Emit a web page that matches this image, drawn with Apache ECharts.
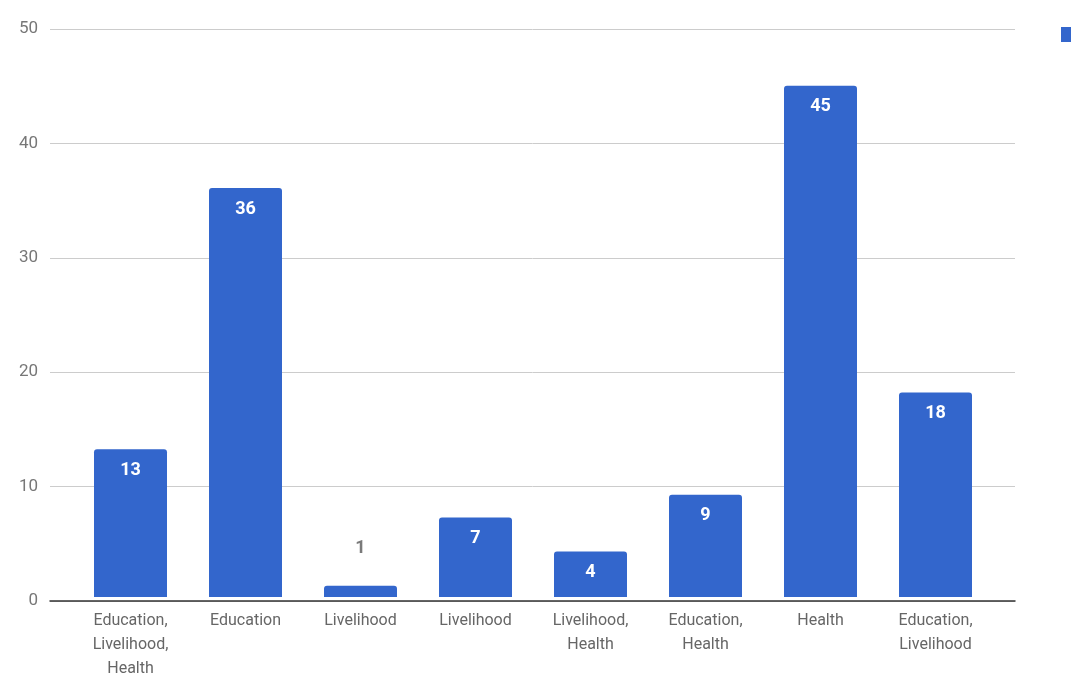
<!DOCTYPE html>
<html>
<head>
<meta charset="utf-8">
<script src="https://cdn.jsdelivr.net/npm/echarts@6/dist/echarts.min.js"></script>
<style>html,body{margin:0;padding:0;background:#fff}#c{width:1071px;height:681px}</style>
</head>
<body>
<div id="c"></div>
<script>
const categories = ["Education,\nLivelihood,\nHealth", "Education", "Livelihood", "Livelihood", "Livelihood,\nHealth", "Education,\nHealth", "Health", "Education,\nLivelihood"];
const values = [13, 36, 1, 7, 4, 9, 45, 18];
const yTicks = [0, 10, 20, 30, 40, 50];
const seriesName = "Count";

const chart = echarts.init(document.getElementById('c'));
const barData = values.map(v => {
  if (v < 3) {
    return { value: v, label: { position: 'top', distance: 28, color: '#7a7a7a', fontWeight: 'bold' } };
  }
  return v;
});
chart.setOption({
  animation: false,
  textStyle: { fontFamily: 'Roboto' },
  legend: {
    left: 1056, top: 22, itemWidth: 15, itemHeight: 15, icon: 'rect',
    textStyle: { color: '#444', fontSize: 15 },
    data: [seriesName]
  },
  grid: [
    { left: 50, right: 56, top: 29, bottom: 80 },
    { left: 73, right: 78, top: 29, bottom: 80 }
  ],
  xAxis: [
    { type: 'value', gridIndex: 0, min: 0, max: 1, axisLine: { show: true, onZero: false, lineStyle: { color: '#333', width: 1.5 } }, axisTick: { show: false }, axisLabel: { show: false }, splitLine: { show: false } },
    { type: 'category', gridIndex: 1, data: categories, axisLine: { show: false }, axisTick: { show: false },
      axisLabel: { color: '#666', fontSize: 16, lineHeight: 24, margin: 12, interval: 0 } }
  ],
  yAxis: [
    { type: 'value', gridIndex: 0, min: yTicks[0], max: yTicks[yTicks.length - 1], interval: 10,
      axisLine: { show: false }, axisTick: { show: false },
      axisLabel: { color: '#777', fontSize: 17, margin: 12 },
      splitLine: { lineStyle: { color: '#cccccc', width: 1 } } },
    { type: 'value', gridIndex: 1, min: yTicks[0], max: yTicks[yTicks.length - 1], interval: 10, show: false }
  ],
  series: [{
    name: seriesName,
    type: 'bar',
    xAxisIndex: 1, yAxisIndex: 1,
    data: barData,
    barWidth: 73,
    itemStyle: { color: '#3366cc', borderRadius: [3, 3, 0, 0] },
    label: { show: true, position: 'insideTop', distance: 12, color: '#fff', fontWeight: 'bold', fontSize: 18 }
  }]
});
</script>
</body>
</html>
